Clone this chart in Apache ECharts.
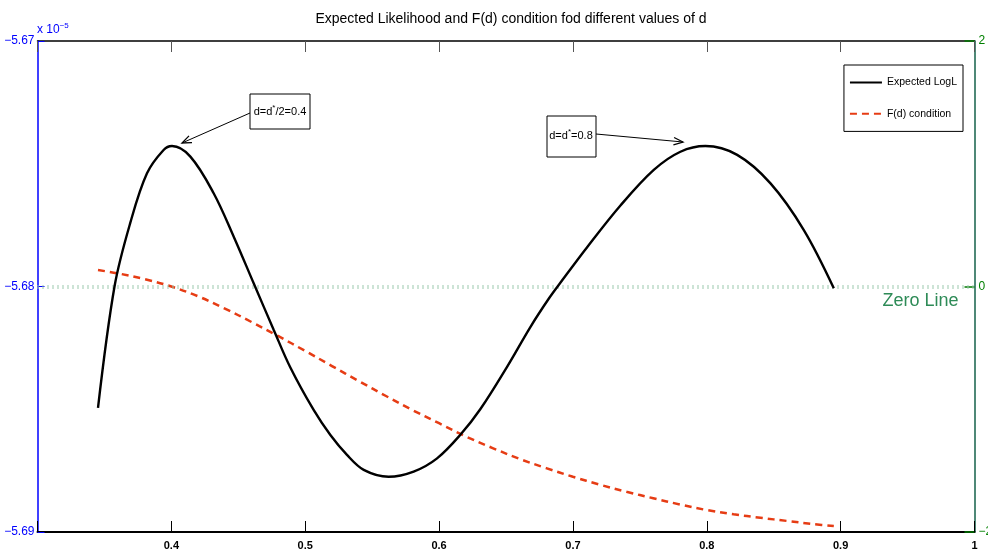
<!DOCTYPE html>
<html>
<head>
<meta charset="utf-8">
<script src="https://cdn.jsdelivr.net/npm/echarts@6/dist/echarts.min.js"></script>
<style>
  html, body { margin: 0; padding: 0; background: #fff; }
  #chart { width: 988px; height: 551px; }
</style>
</head>
<body>
<div id="chart"></div>
<script>
// 曲线数据（d 值，期望对数似然 ×1e-5）
const dLogL = [0.3452, 0.3576, 0.3693, 0.3818, 0.3942, 0.4005, 0.4142, 0.4316, 0.4466, 0.4615,
    0.4765, 0.4889, 0.5063, 0.5188, 0.5312, 0.5437, 0.5623, 0.5810, 0.5985, 0.6159,
    0.6309, 0.6508, 0.6682, 0.6819, 0.6906, 0.7106, 0.7355, 0.7604, 0.7803, 0.7990,
    0.8227, 0.8476, 0.8725, 0.8949];
const logL = [-5.68494, -5.67998, -5.67741, -5.67539, -5.67444, -5.67428, -5.67471, -5.67620, -5.67797, -5.67987,
    -5.68177, -5.68330, -5.68503, -5.68605, -5.68686, -5.68747, -5.68775, -5.68754, -5.68700, -5.68604,
    -5.68499, -5.68327, -5.68165, -5.68050, -5.67985, -5.67840, -5.67670, -5.67525, -5.67451, -5.67428,
    -5.67464, -5.67580, -5.67770, -5.68007];
// F(d) 条件曲线（右轴）
const dCond = [0.3452, 0.36, 0.38, 0.40, 0.42, 0.44, 0.46, 0.48, 0.50, 0.52,
    0.54, 0.56, 0.58, 0.60, 0.62, 0.64, 0.66, 0.68, 0.70, 0.72,
    0.74, 0.76, 0.78, 0.80, 0.82, 0.84, 0.86, 0.88, 0.8949];
const fCond = [0.134, 0.107, 0.060, 0.000, -0.080, -0.180, -0.290, -0.405, -0.525, -0.648,
    -0.770, -0.890, -1.006, -1.114, -1.222, -1.316, -1.404, -1.480, -1.550, -1.614,
    -1.672, -1.725, -1.776, -1.821, -1.856, -1.884, -1.910, -1.936, -1.951];
// 坐标轴刻度
const xTicks = [0.4, 0.5, 0.6, 0.7, 0.8, 0.9, 1];
const leftTicks = [-5.69, -5.68, -5.67];
const rightTicks = [-2, 0, 2];

const fontFamily = '"Liberation Sans", Arial, sans-serif';

function pairs(xs, ys) {
    return xs.map((x, i) => [x, ys[i]]);
}

// 箭头（线段 + V 形头）
function arrow(x1, y1, x2, y2) {
    const ang = Math.atan2(y2 - y1, x2 - x1);
    const len = 10, spread = 0.38;
    const p1 = [x2 - len * Math.cos(ang - spread), y2 - len * Math.sin(ang - spread)];
    const p2 = [x2 - len * Math.cos(ang + spread), y2 - len * Math.sin(ang + spread)];
    return [
        {type: 'line', shape: {x1: x1, y1: y1, x2: x2, y2: y2}, style: {stroke: '#000', lineWidth: 1}},
        {type: 'polyline', shape: {points: [p1, [x2, y2], p2]}, style: {stroke: '#000', lineWidth: 1.3, fill: null}}
    ];
}

const richNote = {
    a: {fontSize: 11, fontFamily: fontFamily, fill: '#000', lineHeight: 16},
    s: {fontSize: 8, fontFamily: fontFamily, fill: '#000', verticalAlign: 'top', lineHeight: 8}
};

let chart = echarts.init(document.getElementById('chart'));

let option = {
    animation: false,
    backgroundColor: '#fff',
    title: {
        text: 'Expected Likelihood and F(d) condition fod different values of d',
        left: 506,
        textAlign: 'center',
        top: 7,
        textStyle: {fontSize: 14, fontWeight: 'normal', color: '#000', fontFamily: fontFamily}
    },
    grid: {left: 37.5, right: 13.5, top: 41, bottom: 19, outerBoundsMode: 'none'},
    legend: {
        right: 25,
        top: 65,
        orient: 'vertical',
        borderColor: '#000',
        borderWidth: 1,
        padding: [12, 6, 12, 5],
        itemWidth: 32,
        itemHeight: 14,
        itemGap: 20,
        backgroundColor: '#fff',
        itemStyle: {color: 'rgba(0,0,0,0)', borderWidth: 0},
        textStyle: {fontSize: 10.5, color: '#000', fontFamily: fontFamily},
        data: ['Expected LogL', 'F(d) condition']
    },
    xAxis: [
        {
            type: 'value',
            min: 0.3,
            max: 1,
            interval: 0.1,
            splitLine: {show: false},
            axisLine: {onZero: false, lineStyle: {color: '#000', width: 2}},
            axisTick: {inside: true, length: 11, lineStyle: {color: '#000', width: 1}},
            axisLabel: {
                margin: 8,
                color: '#000',
                fontSize: 11,
                fontWeight: 'bold',
                fontFamily: fontFamily,
                formatter: function (v) {
                    const r = Math.round(v * 10) / 10;
                    return xTicks.indexOf(r) >= 0 ? String(r) : '';
                }
            }
        },
        {
            type: 'value',
            position: 'top',
            min: 0.3,
            max: 1,
            interval: 0.1,
            splitLine: {show: false},
            axisLine: {onZero: false, lineStyle: {color: '#000', width: 1.5}},
            axisTick: {inside: true, length: 11, lineStyle: {color: '#555', width: 1}},
            axisLabel: {show: false}
        }
    ],
    yAxis: [
        {
            type: 'value',
            min: -5.69,
            max: -5.67,
            interval: 0.01,
            splitLine: {show: false},
            axisLine: {show: true, onZero: false, lineStyle: {color: '#0000ff', width: 1.5}},
            axisTick: {show: true, inside: true, length: 7, lineStyle: {color: '#0000ff'}},
            axisLabel: {
                margin: 3,
                color: '#0000ff',
                fontSize: 12,
                fontFamily: fontFamily,
                formatter: function (v) {
                    const r = Math.round(v * 100) / 100;
                    return leftTicks.indexOf(r) >= 0 ? r.toFixed(2).replace('-', '\u2212') : '';
                }
            }
        },
        {
            type: 'value',
            min: -2,
            max: 2,
            interval: 2,
            position: 'right',
            splitLine: {show: false},
            axisLine: {show: true, onZero: false, lineStyle: {color: '#14604a', width: 1.5}},
            axisTick: {show: true, inside: true, length: 10, lineStyle: {color: '#007a00', width: 1.5}},
            axisLabel: {
                margin: 4,
                color: '#008000',
                fontSize: 12,
                fontFamily: fontFamily,
                formatter: function (v) {
                    return rightTicks.indexOf(v) >= 0 ? String(v).replace('-', '\u2212') : '';
                }
            }
        }
    ],
    series: [
        {
            name: 'Expected LogL',
            type: 'line',
            xAxisIndex: 0,
            yAxisIndex: 0,
            data: pairs(dLogL, logL),
            smooth: 0.35,
            showSymbol: false,
            symbol: 'none',
            z: 5,
            lineStyle: {color: '#000', width: 2.4},
            itemStyle: {color: '#000'}
        },
        {
            name: 'F(d) condition',
            type: 'line',
            xAxisIndex: 0,
            yAxisIndex: 1,
            data: pairs(dCond, fCond),
            smooth: 0.35,
            showSymbol: false,
            symbol: 'none',
            z: 4,
            lineStyle: {color: '#e63c14', width: 2.5, type: [7, 5]},
            itemStyle: {color: '#e63c14'},
            markLine: {
                silent: true,
                symbol: 'none',
                lineStyle: {color: '#9ccaae', width: 4, type: [1, 4]},
                label: {
                    show: true,
                    formatter: 'Zero Line',
                    position: 'insideEndBottom',
                    distance: [16, 6],
                    color: '#2e8b57',
                    fontSize: 18,
                    fontFamily: fontFamily
                },
                data: [{yAxis: 0}]
            }
        }
    ],
    graphic: [
        // 10^-5 倍数标注
        {
            type: 'text', left: 37, top: 22,
            style: {
                text: '{a|x 10}{s|\u22125}',
                rich: {
                    a: {fontSize: 12, fill: '#0000ff', fontFamily: fontFamily, lineHeight: 16},
                    s: {fontSize: 8, fill: '#0000ff', fontFamily: fontFamily, verticalAlign: 'top', lineHeight: 8}
                }
            }
        },
        // 注释框 1
        {type: 'rect', shape: {x: 250, y: 94, width: 60, height: 35}, style: {fill: '#fff', stroke: '#000', lineWidth: 1}, z: 10},
        {
            type: 'text', x: 280, y: 112, z: 11,
            style: {text: '{a|d=d}{s|*}{a|/2=0.4}', rich: richNote, align: 'center', verticalAlign: 'middle'}
        },
        // 注释框 2
        {type: 'rect', shape: {x: 547, y: 116, width: 49, height: 41}, style: {fill: '#fff', stroke: '#000', lineWidth: 1}, z: 10},
        {
            type: 'text', x: 571, y: 136, z: 11,
            style: {text: '{a|d=d}{s|*}{a|=0.8}', rich: richNote, align: 'center', verticalAlign: 'middle'}
        }
    ].concat(arrow(250, 113, 182, 143), arrow(596, 134, 683, 142))
};

chart.setOption(option);
</script>
</body>
</html>
